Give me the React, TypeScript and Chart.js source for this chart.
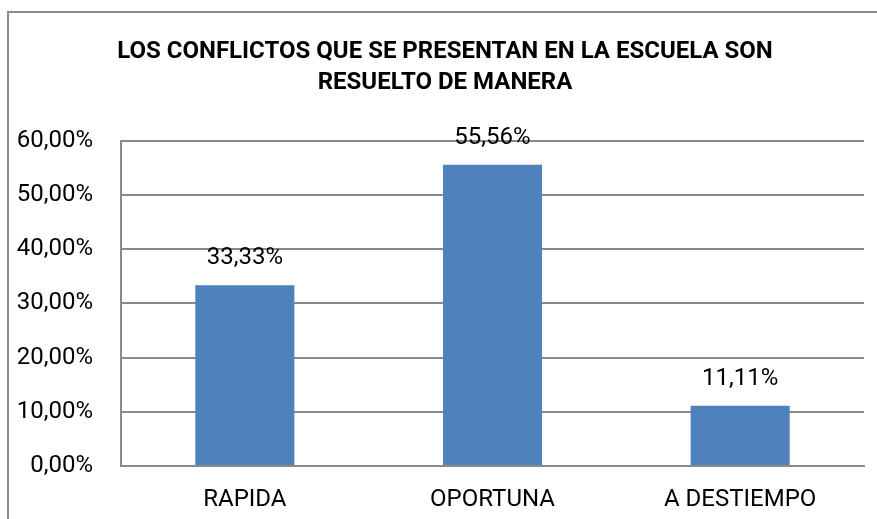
import React, { useEffect, useRef } from "react";
import { Chart, registerables } from "chart.js";

Chart.register(...registerables);

const titleLines = ["LOS CONFLICTOS QUE SE PRESENTAN EN LA ESCUELA SON", "RESUELTO DE MANERA"];
const categories = ["RAPIDA", "OPORTUNA", "A DESTIEMPO"];
const values = [33.33, 55.56, 11.11];
const yTicks = [0, 10, 20, 30, 40, 50, 60];

const fmt = (v: number) => v.toFixed(2).replace(".", ",") + "%";

const dataLabels = {
  id: "dataLabels",
  afterDatasetsDraw(chart: any) {
    const ctx = chart.ctx;
    const meta = chart.getDatasetMeta(0);
    ctx.save();
    ctx.font = "24px Roboto";
    ctx.fillStyle = "#000000";
    ctx.textAlign = "center";
    ctx.textBaseline = "middle";
    meta.data.forEach((bar: any, i: number) => {
      ctx.fillText(fmt(values[i]), bar.x, bar.y - 27);
    });
    ctx.restore();
  },
};

// Centre the title over the same band as the original (frame-relative), not the whole canvas
const titleShift = {
  id: "titleShift",
  afterLayout(chart: any) {
    const t = chart.titleBlock;
    if (t) {
      t.left = 26;
      t.right = chart.chartArea.right;
    }
  },
};

export default function App() {
  const ref = useRef<HTMLCanvasElement | null>(null);
  useEffect(() => {
    if (!ref.current) return;
    const chart = new Chart(ref.current, {
      type: "bar",
      data: {
        labels: categories,
        datasets: [
          {
            data: values,
            backgroundColor: "#4F81BD",
            barPercentage: 0.4,
            categoryPercentage: 1,
          },
        ],
      },
      options: {
        animation: false,
        responsive: false,
        layout: { padding: { left: 0, right: 13, top: 0, bottom: 0 } },
        plugins: {
          legend: { display: false },
          tooltip: { enabled: false },
          title: {
            display: true,
            text: titleLines,
            color: "#000000",
            font: { family: "Roboto", size: 24, weight: "bold", lineHeight: 1.3 },
            padding: { top: 36, bottom: 42.4 },
          },
        },
        scales: {
          x: {
            grid: { display: false, drawTicks: false },
            border: { display: true, color: "#8a8a8a", width: 2 },
            ticks: { color: "#000000", font: { family: "Roboto", size: 24 }, padding: 20 },
            afterFit: (s: any) => {
              s.height = 53;
            },
          },
          y: {
            min: 0,
            max: 60,
            afterBuildTicks: (s: any) => {
              s.ticks = yTicks.map((v) => ({ value: v }));
            },
            grid: { color: "#8a8a8a", lineWidth: 2, drawTicks: false },
            border: { display: true, color: "#8a8a8a", width: 2 },
            ticks: {
              color: "#000000",
              font: { family: "Roboto", size: 24 },
              padding: 28,
              callback: (v: any) => fmt(Number(v)),
            },
            afterFit: (s: any) => {
              s.width = 121;
            },
          },
        },
      },
      plugins: [dataLabels, titleShift],
    });
    return () => chart.destroy();
  }, []);

  return (
    <div style={{ position: "fixed", left: 0, top: 0, width: 877, height: 519, overflow: "hidden", background: "#ffffff" }}>
      <div
        style={{
          position: "absolute",
          left: 7,
          top: 11,
          width: 1000,
          height: 700,
          border: "2px solid #8a8a8a",
          boxSizing: "border-box",
        }}
      />
      <canvas ref={ref} width={877} height={519} style={{ position: "absolute", left: 0, top: 0 }} />
    </div>
  );
}
